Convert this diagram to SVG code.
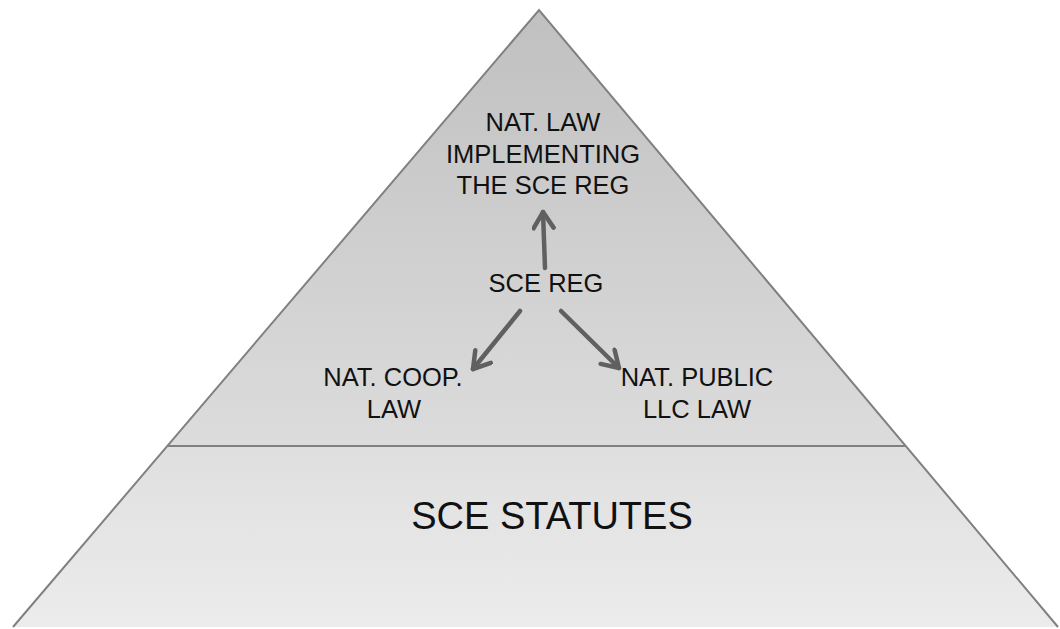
<svg xmlns="http://www.w3.org/2000/svg" width="1060" height="629" viewBox="0 0 1060 629">
<defs>
<linearGradient id="gTop" x1="0" y1="10" x2="0" y2="446" gradientUnits="userSpaceOnUse">
<stop offset="0" stop-color="#c0c0c0"/><stop offset="1" stop-color="#dcdcdc"/>
</linearGradient>
<linearGradient id="gBot" x1="0" y1="446" x2="0" y2="629" gradientUnits="userSpaceOnUse">
<stop offset="0" stop-color="#dfdfdf"/><stop offset="1" stop-color="#ececec"/>
</linearGradient>
<marker id="ah" viewBox="0 0 24 24" refX="20" refY="12" markerWidth="24" markerHeight="24" markerUnits="userSpaceOnUse" orient="auto">
<path d="M4 2 L20 12 L4 22" fill="none" stroke="#606060" stroke-width="4.5" stroke-linecap="round" stroke-linejoin="round"/>
</marker>
<style>
.t{font-family:"Liberation Sans",Arial,sans-serif;font-size:25.5px;fill:#111;text-anchor:middle}
.big{font-size:38px}
.c{fill:none;stroke:#606060;stroke-width:4.5;stroke-linecap:round}
</style>
</defs>
<g id="pyramid">
<path d="M539 10 L13 627 L1058 627 Z" fill="url(#gBot)"/>
<path d="M539 10 L167.3 446 L905.7 446 Z" fill="url(#gTop)"/>
<path d="M13 627 L539 10 L1058 627" fill="none" stroke="#808080" stroke-width="2"/>
<line x1="168" y1="446" x2="905" y2="446" stroke="#808080" stroke-width="2"/>
</g>
<g id="nat-law-impl"><text class="t" x="543" y="131">NAT. LAW</text><text class="t" x="543" y="163">IMPLEMENTING</text><text class="t" x="543" y="194">THE SCE REG</text></g>
<g id="sce-reg"><text class="t" x="546" y="292">SCE REG</text></g>
<g id="nat-coop"><text class="t" x="393" y="386">NAT. COOP.</text><text class="t" x="394" y="418">LAW</text></g>
<g id="nat-public"><text class="t" x="697" y="386">NAT. PUBLIC</text><text class="t" x="697" y="418">LLC LAW</text></g>
<g id="sce-statutes"><text class="t big" x="552" y="529">SCE STATUTES</text></g>
<g id="connectors">
<path class="c" d="M545 268 L543 212" marker-end="url(#ah)"/>
<path class="c" d="M520 311 L473 369" marker-end="url(#ah)"/>
<path class="c" d="M561 311 L619 368" marker-end="url(#ah)"/>
</g>
</svg>
